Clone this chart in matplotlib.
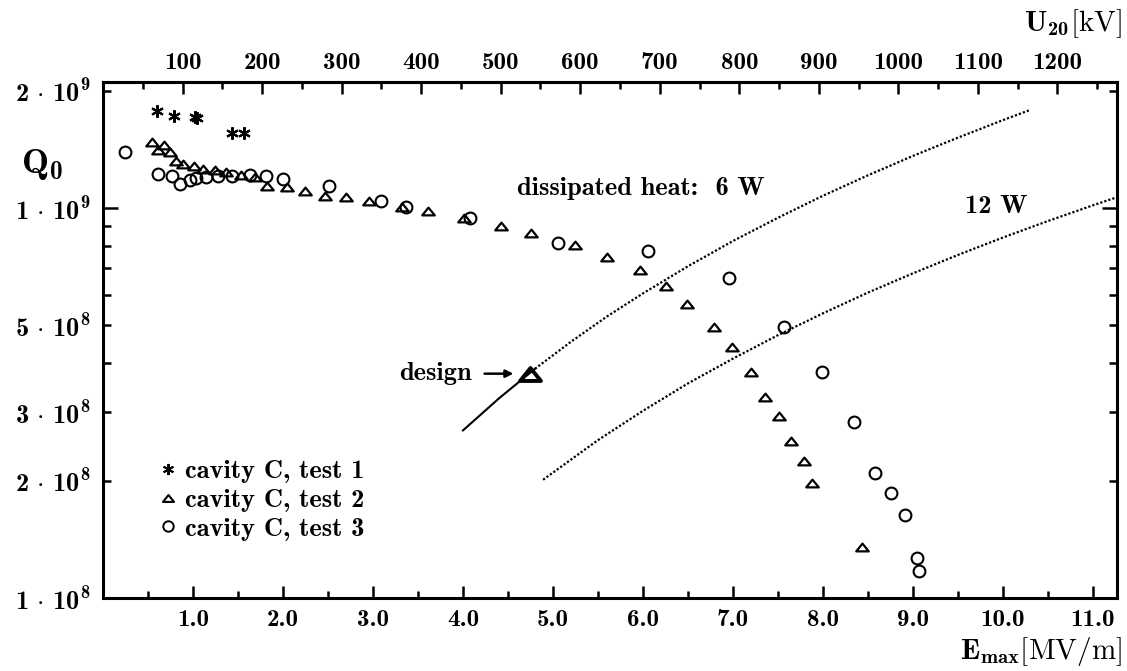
import matplotlib
matplotlib.use('Agg')
import matplotlib.pyplot as plt
from matplotlib.lines import Line2D
from matplotlib.path import Path
from matplotlib.ticker import FixedLocator, FuncFormatter

plt.rcParams['mathtext.fontset'] = 'custom'
plt.rcParams['mathtext.rm'] = 'cmr10'
plt.rcParams['mathtext.bf'] = 'cmb10'
plt.rcParams['mathtext.it'] = 'cmmi10'
plt.rcParams['mathtext.fallback'] = 'cm'
plt.rcParams['font.family'] = ['cmb10', 'DejaVu Serif']
plt.rcParams['axes.unicode_minus'] = False

# ---------------- data ----------------
test1_E = [0.60, 0.79, 1.02, 1.04, 1.43, 1.57]
test1_Q = [1.77e9, 1.72e9, 1.71e9, 1.70e9, 1.555e9, 1.555e9]

test2_E = [0.55, 0.61, 0.68, 0.74, 0.81, 0.89, 1.01, 1.11, 1.24, 1.37, 1.53, 1.69,
           1.82, 2.04, 2.24, 2.47, 2.70, 2.96, 3.32, 3.61, 4.01, 4.42, 4.76, 5.24,
           5.60, 5.97, 6.26, 6.49, 6.79, 6.99, 7.20, 7.36, 7.51, 7.65, 7.79, 7.88, 8.43]
test2_Q = [1.48e9, 1.41e9, 1.45e9, 1.39e9, 1.32e9, 1.30e9, 1.28e9, 1.26e9, 1.25e9,
           1.24e9, 1.215e9, 1.20e9, 1.14e9, 1.13e9, 1.105e9, 1.075e9, 1.065e9, 1.04e9,
           1.005e9, 0.985e9, 0.945e9, 0.90e9, 0.865e9, 0.805e9, 0.75e9, 0.695e9, 0.63e9,
           0.567e9, 0.494e9, 0.441e9, 0.379e9, 0.328e9, 0.292e9, 0.252e9, 0.224e9,
           0.197e9, 0.1355e9]

test3_E = [0.25, 0.61, 0.77, 0.86, 0.97, 1.03, 1.15, 1.28, 1.43, 1.63, 1.81, 2.00,
           2.51, 3.09, 3.37, 4.08, 5.06, 6.06, 6.96, 7.57, 7.99, 8.34, 8.58, 8.76,
           8.91, 9.05, 9.07]
test3_Q = [1.395e9, 1.22e9, 1.205e9, 1.155e9, 1.18e9, 1.195e9, 1.20e9, 1.21e9,
           1.21e9, 1.213e9, 1.206e9, 1.185e9, 1.14e9, 1.04e9, 1.008e9, 0.944e9,
           0.812e9, 0.775e9, 0.66e9, 0.494e9, 0.38e9, 0.282e9, 0.209e9, 0.186e9,
           0.1635e9, 0.1265e9, 0.1175e9]

design_E = [4.74]
design_Q = [3.76e8]

heat6_solid_E = [4.0, 4.4, 4.8]
heat6_solid_Q = [2.69e8, 3.25e8, 3.87e8]
heat6_dot_E = [4.8, 5.2, 5.6, 6.0, 6.5, 7.0, 7.5, 8.0, 8.5, 9.0, 9.5, 10.0, 10.29]
heat6_dot_Q = [3.87e8, 4.54e8, 5.27e8, 6.04e8, 7.09e8, 8.23e8, 9.44e8, 1.075e9,
               1.213e9, 1.36e9, 1.515e9, 1.68e9, 1.78e9]

heat12_E = [4.89, 5.5, 6.0, 6.5, 7.0, 7.5, 8.0, 8.5, 9.0, 9.5, 10.0, 10.5, 11.0, 11.27]
heat12_Q = [2.01e8, 2.54e8, 3.02e8, 3.55e8, 4.11e8, 4.72e8, 5.37e8, 6.07e8, 6.80e8,
            7.58e8, 8.40e8, 9.26e8, 1.016e9, 1.066e9]

legend_labels = ['cavity C, test 1', 'cavity C, test 2', 'cavity C, test 3']

x_major_ticks = [1.0, 2.0, 3.0, 4.0, 5.0, 6.0, 7.0, 8.0, 9.0, 10.0, 11.0]
x_major_labels = ['1.0', '2.0', '3.0', '4.0', '5.0', '6.0', '7.0', '8.0', '9.0', '10.0', '11.0']
x_minor_ticks = [0.5, 1.5, 2.5, 3.5, 4.5, 5.5, 6.5, 7.5, 8.5, 9.5, 10.5]

u_major_ticks = [100, 200, 300, 400, 500, 600, 700, 800, 900, 1000, 1100, 1200]
u_minor_ticks = [50, 150, 250, 350, 450, 550, 650, 750, 850, 950, 1050, 1150, 1250]
kv_per_mvm = 113.15

y_major_ticks = [1e8, 1e9]
y_minor_ticks = [2e8, 3e8, 4e8, 5e8, 6e8, 7e8, 8e8, 9e8, 2e9]
y_label_map = {1e8: r'$\mathbf{1\,\cdot\,10^{8}}$', 2e8: r'$\mathbf{2\,\cdot\,10^{8}}$',
               3e8: r'$\mathbf{3\,\cdot\,10^{8}}$', 5e8: r'$\mathbf{5\,\cdot\,10^{8}}$',
               1e9: r'$\mathbf{1\,\cdot\,10^{9}}$', 2e9: r'$\mathbf{2\,\cdot\,10^{9}}$'}

# ---------------- figure ----------------
W, H = 1127, 671
fig = plt.figure(figsize=(W / 100, H / 100), dpi=100)
ax = fig.add_axes([103 / W, 1 - 598 / H, 1014 / W, 516 / H])
ax.set_yscale('log')
ax.set_xlim(0, 11.267)
ax.set_ylim(1e8, 2.104e9)

tri = Path([(-1, -0.62), (1, -0.62), (0, 0.62), (-1, -0.62)], closed=True)
ast = (6, 2, 0)

ax.plot(test1_E, test1_Q, ls='none', marker=ast, ms=9, mew=1.5, color='black')
ax.plot(test2_E, test2_Q, ls='none', marker=tri, ms=9, mew=1.6, mfc='none', mec='black')
ax.plot(test3_E, test3_Q, ls='none', marker='o', ms=8.5, mew=1.5, mfc='none', mec='black')
ax.plot(design_E, design_Q, ls='none', marker=tri, ms=15, mew=2.8, mfc='none', mec='black')

ax.plot(heat6_solid_E, heat6_solid_Q, color='black', lw=1.5)
ax.plot(heat6_dot_E, heat6_dot_Q, color='black', lw=1.6, ls=(0, (1, 0.9)))
ax.plot(heat12_E, heat12_Q, color='black', lw=1.6, ls=(0, (1, 0.9)))

# texts
txt_size = 19
ax.text(5.98, 1.125e9, 'dissipated heat:  6 W', fontsize=txt_size, ha='center', va='center')
ax.text(9.92, 1.006e9, '12 W', fontsize=txt_size, ha='center', va='center')
ax.text(4.10, 3.76e8, 'design', fontsize=txt_size, ha='right', va='center')
ax.annotate('', xy=(4.56, 3.76e8), xytext=(4.24, 3.76e8),
            arrowprops=dict(arrowstyle='-|>', lw=1.8, color='black',
                            mutation_scale=11, shrinkA=0, shrinkB=0))

# legend
handles = [Line2D([], [], ls='none', marker=ast, ms=8, mew=1.4, color='black'),
           Line2D([], [], ls='none', marker=tri, ms=8, mew=1.5, mfc='none', mec='black'),
           Line2D([], [], ls='none', marker='o', ms=7.5, mew=1.4, mfc='none', mec='black')]
ax.legend(handles, legend_labels, loc='upper left', bbox_to_anchor=(0.055, 0.268),
          frameon=False, fontsize=txt_size, handlelength=0.7, handletextpad=0.3,
          borderpad=0, borderaxespad=0, labelspacing=0.2)

# spines / ticks
for s in ax.spines.values():
    s.set_linewidth(2.2)

ax.xaxis.set_major_locator(FixedLocator(x_major_ticks))
ax.xaxis.set_minor_locator(FixedLocator(x_minor_ticks))
ax.set_xticklabels(x_major_labels)
ax.yaxis.set_major_locator(FixedLocator(y_major_ticks))
ax.yaxis.set_minor_locator(FixedLocator(y_minor_ticks))
ylab = FuncFormatter(lambda v, p: next((l for k, l in y_label_map.items()
                                        if abs(v - k) / k < 1e-3), ''))
ax.yaxis.set_major_formatter(ylab)
ax.yaxis.set_minor_formatter(ylab)

ax.tick_params(axis='x', which='both', direction='in', top=False, bottom=True,
               width=1.8, labelsize=18)
ax.tick_params(axis='x', which='major', length=8.5, pad=8)
ax.tick_params(axis='x', which='minor', length=5)
ax.tick_params(axis='y', which='both', direction='in', left=True, right=True,
               width=1.8, labelsize=19)
ax.tick_params(axis='y', which='major', length=11, pad=9)
ax.tick_params(axis='y', which='minor', length=6, pad=9)

top = ax.secondary_xaxis('top', functions=(lambda e: e * kv_per_mvm,
                                           lambda u: u / kv_per_mvm))
top.xaxis.set_major_locator(FixedLocator(u_major_ticks))
top.xaxis.set_minor_locator(FixedLocator(u_minor_ticks))
top.set_xticklabels([str(u) for u in u_major_ticks])
top.spines['top'].set_linewidth(2.2)
top.tick_params(which='both', direction='in', width=1.8, labelsize=18)
top.tick_params(which='major', length=8.5, pad=6)
top.tick_params(which='minor', length=5)

# axis labels
fig.text(42 / W, 1 - 164 / H, r'$\mathbf{Q}_{\mathbf{0}}$', fontsize=26, ha='center', va='center')
fig.text(1122 / W, 1 - 652 / H, r'$\mathbf{E}_{\mathbf{max}}\mathrm{[MV/m]}$',
         fontsize=21, ha='right', va='center')
fig.text(1122 / W, 1 - 24 / H, r'$\mathbf{U}_{\mathbf{20}}\mathrm{[kV]}$',
         fontsize=21, ha='right', va='center')

fig.savefig('out.png', dpi=100)
